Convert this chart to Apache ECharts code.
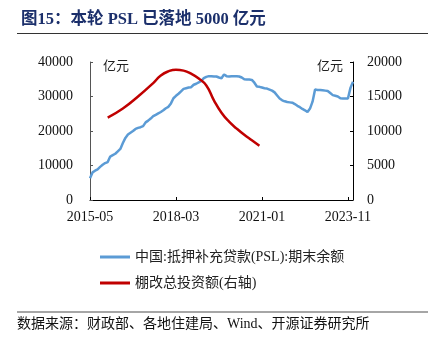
<!DOCTYPE html>
<html><head><meta charset="utf-8">
<script src="https://cdn.jsdelivr.net/npm/echarts@6/dist/echarts.min.js"></script>
<style>html,body{margin:0;padding:0;background:#fff}#c{width:436px;height:346px}</style>
</head><body><div id="c"></div>
<script>
// Categories: monthly from 2015-05 to 2024-01
var startYear = 2015, startMonth = 5, monthCount = 105;
var tickLabels = ['2015-05', '2018-03', '2021-01', '2023-11'];
// 中国:抵押补充贷款(PSL):期末余额 (亿元, left axis), monthly
var pslValues = [
  6300, 8000, 8500, 8900, 9600, 10200, 10700, 11000, 12600, 13000,
  13400, 14100, 14800, 16500, 18000, 19000, 19500, 20000, 20600, 20900,
  21100, 21400, 22500, 23000, 23600, 24300, 24700, 25100, 25500, 26000,
  26600, 27000, 28000, 29500, 30200, 30800, 31500, 32200, 32400, 32600,
  32700, 33400, 33700, 34100, 34500, 35300, 35700, 35900, 35900, 35800,
  35800, 35500, 35300, 36400, 35900, 35800, 35900, 35900, 35900, 35800,
  35500, 35000, 34900, 34900, 34800, 34000, 32900, 32800, 32600, 32400,
  32300, 32000, 31700, 31200, 30300, 29400, 28900, 28600, 28400, 28300,
  28200, 27800, 27300, 26900, 26400, 26000, 25500, 26500, 28500, 32000,
  31900, 31900, 31800, 31700, 31600, 31000, 30400, 30200, 30000, 29500,
  29400, 29400, 29400, 32500, 34300
];
// 棚改总投资额(右轴) (亿元, right axis)
var shantyMonths = ['2015-12', '2016-06', '2016-12', '2017-06', '2017-09', '2017-12', '2018-03',
  '2018-06', '2018-09', '2018-12', '2019-03', '2019-06', '2019-09', '2019-12',
  '2020-03', '2020-06', '2020-09', '2020-12'];
var shantyValues = [11930, 13250, 15000, 16950, 18050, 18650, 18880,
  18750, 18300, 17600, 16600, 14450, 12650, 11350,
  10350, 9450, 8650, 7850];

var categories = [];
for (var i = 0; i < monthCount; i++) {
  var m = startMonth - 1 + i;
  var y = startYear + Math.floor(m / 12);
  var mm = (m % 12) + 1;
  categories.push(y + '-' + (mm < 10 ? '0' + mm : '' + mm));
}
var shantySeries = categories.map(function (c) {
  var k = shantyMonths.indexOf(c);
  return k >= 0 ? shantyValues[k] : null;
});

var serif = "'Liberation Serif','Times New Roman','Noto Sans CJK SC',serif";
var cjk = "'Liberation Serif','Noto Sans CJK SC',sans-serif";
var chart = echarts.init(document.getElementById('c'), null, {renderer: 'canvas'});
var showTick = function (idx) { return tickLabels.indexOf(categories[idx]) >= 0; };
var plain = function (v) { return String(v); };
chart.setOption({
  animation: false,
  title: {
    text: '图15：本轮 PSL 已落地 5000 亿元',
    left: 16, top: 6,
    textStyle: {fontFamily: cjk, fontSize: 16.5, fontWeight: 'bold', color: '#1b2f6b'}
  },
  graphic: [
    {type: 'line', shape: {x1: 17, y1: 33.5, x2: 428, y2: 33.5}, style: {stroke: '#333', lineWidth: 1}},
    {type: 'line', shape: {x1: 17, y1: 312, x2: 428, y2: 312}, style: {stroke: '#888', lineWidth: 1.5}},
    {type: 'text', left: 17, top: 317, style: {text: '数据来源：财政部、各地住建局、Wind、开源证券研究所', font: "14px " + cjk, fill: '#111'}}
  ],
  grid: {left: 90, right: 83, top: 62, bottom: 146, containLabel: false},
  legend: {
    orient: 'vertical', left: 95, top: 245, itemWidth: 30, itemHeight: 3, itemGap: 12,
    icon: 'rect',
    textStyle: {fontFamily: cjk, fontSize: 14, color: '#222'},
    data: ['中国:抵押补充贷款(PSL):期末余额', '棚改总投资额(右轴)']
  },
  xAxis: {
    type: 'category', data: categories, boundaryGap: false,
    axisLine: {lineStyle: {color: '#000', width: 1}},
    axisTick: {inside: true, length: 3, interval: showTick, lineStyle: {color: '#000'}},
    axisLabel: {interval: showTick, fontFamily: serif, fontSize: 14, color: '#111', margin: 10},
    splitLine: {show: false}
  },
  yAxis: [
    {
      type: 'value', min: 0, max: 40000, interval: 10000,
      name: '亿元', nameLocation: 'end', nameGap: -11,
      nameTextStyle: {fontFamily: cjk, fontSize: 13, color: '#222', align: 'left', padding: [0, 0, 0, 13]},
      axisLine: {show: true, lineStyle: {color: '#555'}},
      axisTick: {show: true, inside: true, length: 3, lineStyle: {color: '#555'}},
      axisLabel: {fontFamily: serif, fontSize: 14, color: '#111', margin: 17, formatter: plain},
      splitLine: {show: false}
    },
    {
      type: 'value', min: 0, max: 20000, interval: 5000, position: 'right',
      name: '亿元', nameLocation: 'end', nameGap: -11,
      nameTextStyle: {fontFamily: cjk, fontSize: 13, color: '#222', align: 'right', padding: [0, 10, 0, 0]},
      axisLine: {show: true, lineStyle: {color: '#000'}},
      axisTick: {show: true, inside: true, length: 3, lineStyle: {color: '#000'}},
      axisLabel: {fontFamily: serif, fontSize: 14, color: '#111', margin: 14, formatter: plain},
      splitLine: {show: false}
    }
  ],
  series: [
    {
      name: '中国:抵押补充贷款(PSL):期末余额', type: 'line', yAxisIndex: 0,
      data: pslValues, symbol: 'none', lineStyle: {color: '#5b9bd5', width: 2.5},
      itemStyle: {color: '#5b9bd5'}
    },
    {
      name: '棚改总投资额(右轴)', type: 'line', yAxisIndex: 1,
      data: shantySeries, connectNulls: true, smooth: 0.5, symbol: 'none',
      lineStyle: {color: '#c00000', width: 2.5}, itemStyle: {color: '#c00000'}
    }
  ]
});
</script></body></html>
